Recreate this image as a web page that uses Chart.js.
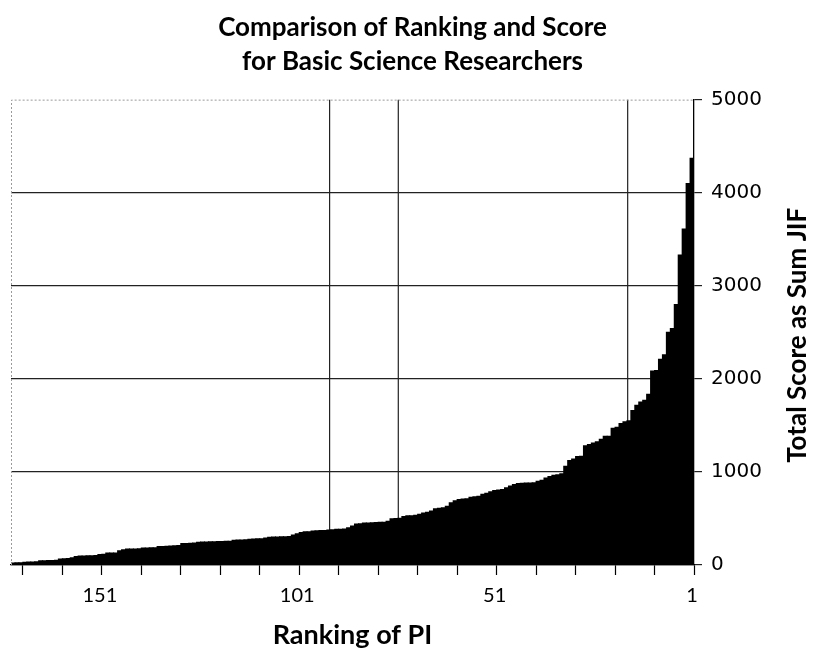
<!DOCTYPE html>
<html>
<head>
<meta charset="utf-8">
<script src="https://cdn.jsdelivr.net/npm/chart.js@4.4.1/dist/chart.umd.min.js"></script>
<style>
  html, body { margin: 0; padding: 0; background: #fff; }
  #wrap { width: 814px; height: 653px; }
</style>
</head>
<body>
<div id="wrap"><canvas id="rankChart"></canvas></div>
<script>
// total score (sum of JIF) per PI, rank 1 first
const scores = [
  4370, 4100, 3610, 3330, 2800, 2540, 2500, 2260, 2210, 2090,
  2085, 1835, 1770, 1750, 1717, 1660, 1550, 1538, 1520, 1480,
  1470, 1384, 1384, 1350, 1323, 1310, 1294, 1280, 1168, 1165,
  1140, 1122, 1061, 980, 971, 965, 950, 935, 910, 900,
  885, 882, 880, 878, 875, 865, 850, 830, 812, 805,
  800, 786, 770, 760, 740, 732, 728, 712, 710, 705,
  690, 670, 630, 615, 610, 605, 580, 566, 560, 545,
  535, 530, 528, 520, 501, 500, 498, 470, 460, 458,
  456, 455, 452, 450, 444, 440, 420, 400, 387, 385,
  383, 380, 375, 372, 370, 368, 365, 358, 356, 350,
  335, 322, 305, 304, 303, 302, 300, 298, 290, 283,
  282, 280, 278, 272, 269, 268, 266, 255, 254, 253,
  252, 250, 249, 248, 246, 244, 236, 234, 232, 230,
  210, 206, 204, 202, 200, 198, 185, 184, 183, 182,
  174, 173, 172, 171, 165, 154, 130, 129, 128, 115,
  114, 101, 100, 99, 98, 97, 90, 78, 70, 66,
  64, 50, 49, 48, 47, 46, 35, 32, 31, 30,
  25, 24, 22
];
const ranks = scores.map((_, i) => String(i + 1));
const rankTickLabels = ['151', '101', '51', '1'];
const scoreTicks = [0, 1000, 2000, 3000, 4000, 5000];
// hand-drawn vertical rules on the original, in rank units
const markerRanks = [92.8, 75.4, 17.3];

const frameAndMarkers = {
  id: 'frameAndMarkers',
  beforeDatasetsDraw(chart) {
    const { ctx, chartArea: a, scales: { x } } = chart;
    ctx.save();
    ctx.strokeStyle = '#222';
    ctx.lineWidth = 1.2;
    markerRanks.forEach((r) => {
      const px = x.getPixelForValue(r - 1);
      ctx.beginPath();
      ctx.moveTo(px, a.top);
      ctx.lineTo(px, a.bottom);
      ctx.stroke();
    });
    ctx.restore();
  },
  afterDatasetsDraw(chart) {
    const { ctx, chartArea: a } = chart;
    ctx.save();
    ctx.strokeStyle = '#9a9a9a';
    ctx.lineWidth = 1;
    ctx.setLineDash([2, 2]);
    ctx.beginPath();
    ctx.moveTo(a.left + 0.5, a.bottom);
    ctx.lineTo(a.left + 0.5, a.top + 0.5);
    ctx.lineTo(a.right, a.top + 0.5);
    ctx.stroke();
    ctx.setLineDash([]);
    // right-hand axis title, reading bottom to top
    ctx.translate(chart.width - 16, (a.top + a.bottom) / 2 + 3);
    ctx.rotate(-Math.PI / 2);
    ctx.fillStyle = '#000';
    ctx.font = 'bold 26px Lato';
    ctx.textAlign = 'center';
    ctx.textBaseline = 'middle';
    ctx.fillText('Total Score as Sum JIF', 0, 0);
    ctx.restore();
  },
};

const data = {
  labels: ranks,
  datasets: [
    {
      label: 'Total Score',
      data: scores,
      backgroundColor: '#000',
      borderWidth: 0,
      barPercentage: 1,
      categoryPercentage: 1,
      inflateAmount: 0.5,
    },
  ],
};

const config = {
  type: 'bar',
  data: data,
  options: {
    responsive: true,
    maintainAspectRatio: false,
    animation: false,
    layout: { padding: { left: 11, right: 0, top: 0, bottom: 0 } },
    plugins: {
      legend: { display: false },
      tooltip: { enabled: false },
      title: {
        display: true,
        text: ['Comparison of Ranking and Score', 'for Basic Science Researchers'],
        color: '#000',
        font: { family: 'Lato', size: 26, weight: 'bold', lineHeight: 1.32 },
        padding: { top: 10, bottom: 21 },
      },
    },
    scales: {
      x: {
        reverse: true,
        offset: true,
        grid: {
          offset: true,
          drawOnChartArea: false,
          tickLength: 10,
          tickWidth: 1.2,
          color: (c) => (c.index % 10 === 0 ? '#000' : 'transparent'),
        },
        border: { color: '#000', width: 1.3 },
        ticks: {
          autoSkip: false,
          maxRotation: 0,
          padding: 9,
          color: '#000',
          font: { family: 'Lato', size: 20 },
          callback: function (value) {
            const lab = this.getLabelForValue(value);
            return rankTickLabels.includes(lab) ? lab : '';
          },
        },
        title: {
          display: true,
          text: 'Ranking of PI',
          color: '#000',
          font: { family: 'Lato', size: 27, weight: 'bold' },
          padding: { top: 0, bottom: 2 },
        },
        afterFit: (scale) => { scale.height = 88; },
      },
      y: {
        position: 'right',
        min: 0,
        max: 5000,
        afterBuildTicks: (scale) => { scale.ticks = scoreTicks.map((v) => ({ value: v })); },
        grid: {
          color: (c) => (c.tick && c.tick.value === 5000 ? 'transparent' : '#222'),
          lineWidth: 1.2,
          tickLength: 8,
          tickColor: '#222',
        },
        border: { color: '#000', width: 1.3 },
        ticks: {
          padding: 9,
          color: '#000',
          font: { family: 'DejaVu Sans', size: 20 },
          callback: (v) => String(v),
        },
        afterFit: (scale) => { scale.width = 120; },
      },
    },
  },
  plugins: [frameAndMarkers],
};

const ctxRank = document.getElementById('rankChart').getContext('2d');
const rankChart = new Chart(ctxRank, config);
</script>
</body>
</html>
